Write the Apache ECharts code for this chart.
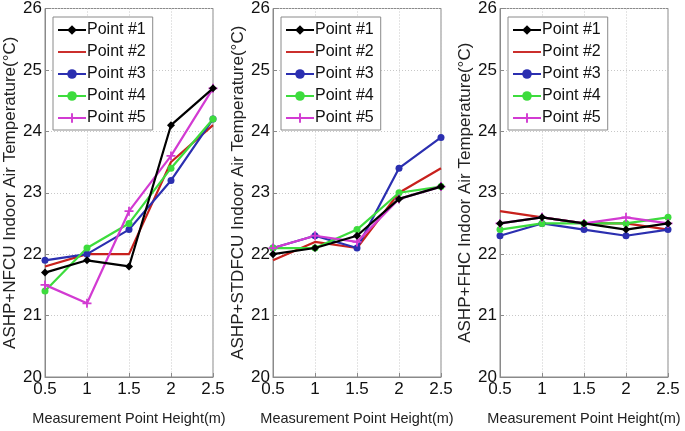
<!DOCTYPE html>
<html><head><meta charset="utf-8">
<script src="https://cdn.jsdelivr.net/npm/echarts@6/dist/echarts.min.js"></script>
<style>html,body{margin:0;padding:0;background:#fff}#c{width:685px;height:431px}</style>
</head><body><div id="c"></div>
<script>
const heights = [0.5, 1, 1.5, 2, 2.5];
const seriesNames = ['Point #1','Point #2','Point #3','Point #4','Point #5'];
const panelTitles = ['ASHP+NFCU Indoor Air Temperature(°C)','ASHP+STDFCU Indoor Air Temperature(°C)','ASHP+FHC Indoor Air Temperature(°C)'];
const xAxisTitle = 'Measurement Point Height(m)';
const yTicks = [20,21,22,23,24,25,26];

// Panel 1: ASHP+NFCU
const nfcu_p1 = [21.7, 21.9, 21.8, 24.1, 24.7];
const nfcu_p2 = [21.8, 22.0, 22.0, 23.5, 24.1];
const nfcu_p3 = [21.9, 22.0, 22.4, 23.2, 24.2];
const nfcu_p4 = [21.4, 22.1, 22.5, 23.4, 24.2];
const nfcu_p5 = [21.5, 21.2, 22.7, 23.6, 24.7];
// Panel 2: ASHP+STDFCU
const std_p1 = [22.0, 22.1, 22.3, 22.9, 23.1];
const std_p2 = [21.9, 22.2, 22.1, 23.0, 23.4];
const std_p3 = [22.1, 22.3, 22.1, 23.4, 23.9];
const std_p4 = [22.1, 22.1, 22.4, 23.0, 23.1];
const std_p5 = [22.1, 22.3, 22.2, 22.9, 23.1];
// Panel 3: ASHP+FHC
const fhc_p1 = [22.5, 22.6, 22.5, 22.4, 22.5];
const fhc_p2 = [22.7, 22.6, 22.5, 22.5, 22.4];
const fhc_p3 = [22.3, 22.5, 22.4, 22.3, 22.4];
const fhc_p4 = [22.4, 22.5, 22.5, 22.5, 22.6];
const fhc_p5 = [22.5, 22.6, 22.5, 22.6, 22.5];

const panels = [
  [nfcu_p1, nfcu_p2, nfcu_p3, nfcu_p4, nfcu_p5],
  [std_p1, std_p2, std_p3, std_p4, std_p5],
  [fhc_p1, fhc_p2, fhc_p3, fhc_p4, fhc_p5]
];

const colors = ['#000000', '#c8211d', '#2b2fb0', '#3ddc3d', '#d23bd2'];
const plusPath = 'path://M4,0 L6,0 L6,4 L10,4 L10,6 L6,6 L6,10 L4,10 L4,6 L0,6 L0,4 L4,4 Z';
const symbols = ['diamond', 'none', 'circle', 'circle', plusPath];
const symSizes = [8, 0, 7, 7, 9];

const gridLefts = [45, 273, 500];
const gridW = 168;
const FONT = 'Liberation Sans, Arial, sans-serif';

const grids = [], xAxes = [], yAxes = [], series = [], legends = [];
gridLefts.forEach((l, i) => {
  grids.push({left: l, width: gridW, top: 8, height: 377, show: true, borderColor: '#8a8a8a', borderWidth: 1, backgroundColor: 'transparent'});
  xAxes.push({
    type: 'value', gridIndex: i, min: 0.5, max: 2.5, interval: 0.5,
    name: xAxisTitle, nameLocation: 'middle', nameGap: 34,
    nameTextStyle: {fontFamily: FONT, fontSize: 14.5, color: '#222'},
    axisLine: {show: true, lineStyle: {color: '#8a8a8a'}},
    axisTick: {show: true, inside: true, length: 4, lineStyle: {color: '#8a8a8a'}},
    axisLabel: {fontFamily: FONT, fontSize: 17, color: '#111', margin: 4, formatter: v => String(v)},
    splitLine: {show: true, lineStyle: {color: '#c8c8c8', type: [1, 2], width: 1}}
  });
  yAxes.push({
    type: 'value', gridIndex: i, min: 20, max: 26, interval: 1,
    name: panelTitles[i], nameLocation: 'middle', nameGap: 25, nameRotate: 90,
    nameTextStyle: {fontFamily: FONT, fontSize: 17, color: '#222'},
    axisLine: {show: true, lineStyle: {color: '#8a8a8a'}},
    axisTick: {show: true, inside: true, length: 4, lineStyle: {color: '#8a8a8a'}},
    axisLabel: {fontFamily: FONT, fontSize: 17, color: '#111', margin: 3, formatter: v => yTicks.includes(v) ? String(v) : ''},
    splitLine: {show: true, lineStyle: {color: '#c8c8c8', type: [1, 2], width: 1}}
  });
  panels[i].forEach((vals, k) => {
    series.push({
      name: seriesNames[k], type: 'line', xAxisIndex: i, yAxisIndex: i,
      data: heights.map((h, j) => [h, vals[j]]),
      symbol: symbols[k], symbolSize: symSizes[k], showSymbol: k !== 1,
      lineStyle: {color: colors[k], width: 2.2},
      itemStyle: {color: colors[k]},
      z: 2 + (k === 0 ? 1 : 0),
      animation: false
    });
  });
  legends.push({
    orient: 'vertical', left: l + 8, top: 17,
    data: seriesNames.map((n, k) => ({name: n, icon: k === 1 ? 'path://M0,4 L30,4 L30,6 L0,6 Z' : undefined})),
    itemWidth: 28, itemHeight: 12, itemGap: 4,
    padding: [4, 7, 3, 4],
    backgroundColor: '#fff', borderColor: '#8a8a8a', borderWidth: 1, borderRadius: 0,
    textStyle: {fontFamily: FONT, fontSize: 16, lineHeight: 18, color: '#111', padding: [0, 0, 0, -4]},
    selectedMode: false
  });
});

const chart = echarts.init(document.getElementById('c'), null, {renderer: 'canvas'});
chart.setOption({
  animation: false,
  backgroundColor: '#fff',
  grid: grids, xAxis: xAxes, yAxis: yAxes, series: series, legend: legends
});
</script></body></html>
